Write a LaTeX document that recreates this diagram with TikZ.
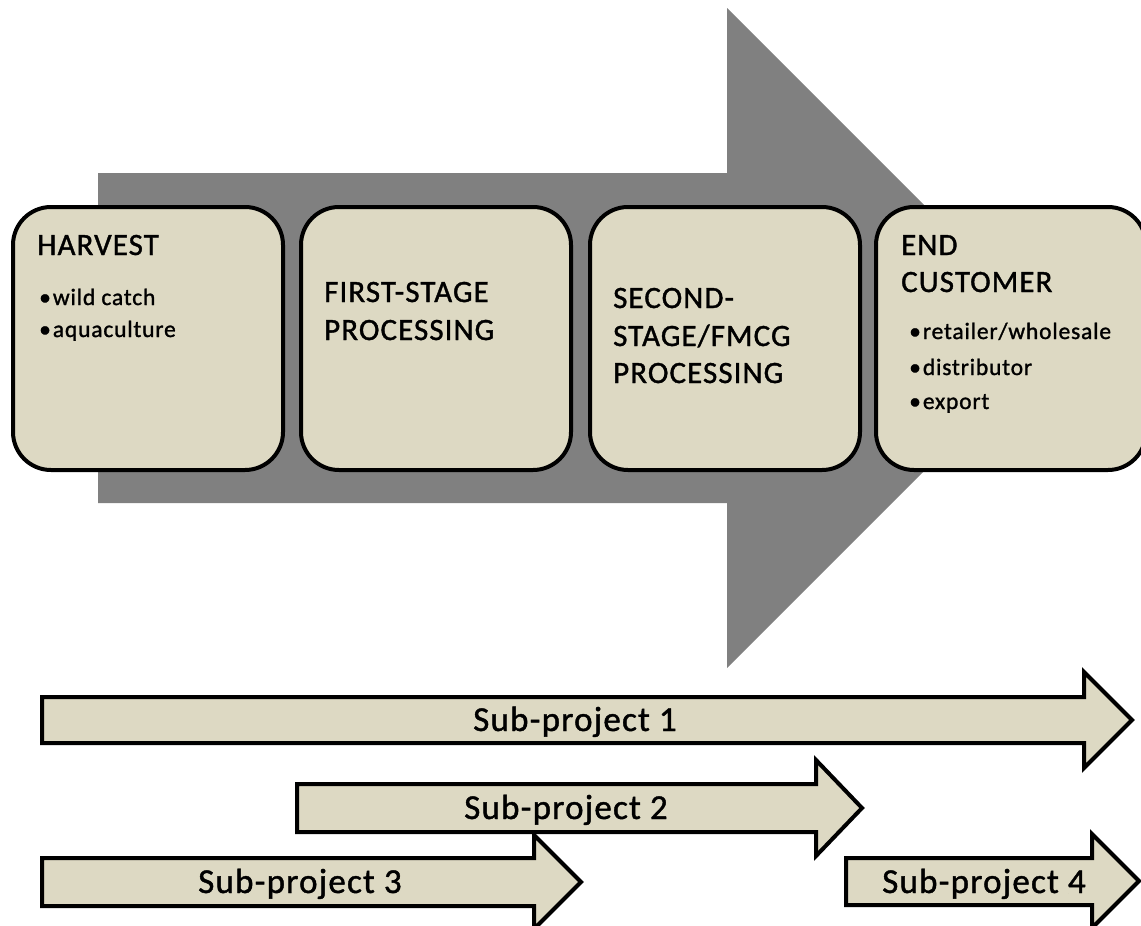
\documentclass[tikz,border=0pt]{standalone}
\usepackage{fontspec}
\setmainfont{Carlito}[LetterSpace=3.5,FakeBold=1.2]
\definecolor{beige}{HTML}{DDD9C3}
\definecolor{biggrey}{HTML}{808080}
\begin{document}
\begin{tikzpicture}[x=1pt,y=-1pt,
  stagebox/.style={draw=black,line width=4pt,fill=beige,rounded corners=38pt,minimum width=270pt,minimum height=263pt,inner sep=0pt},
  ttl/.style={anchor=base west,inner sep=0pt,text=black,font=\fontsize{31}{31}\selectfont},
  bul/.style={anchor=base west,inner sep=0pt,text=black,font=\fontsize{23.5}{24}\selectfont},
  subarrow/.style={draw=black,line width=4pt,fill=beige,line join=miter},
  sublbl/.style={anchor=base,inner sep=0pt,text=black,font=\fontsize{35}{35}\selectfont}]
\useasboundingbox (0,0) rectangle (1141,926);
% big grey arrow
\fill[biggrey] (98,173) -- (727,173) -- (727,8) -- (1057,338) -- (727,668) -- (727,503) -- (98,503) -- cycle;
% stage boxes
\node[stagebox] (b1) at (148,338.5) {};
\node[stagebox] (b2) at (436,338.5) {};
\node[stagebox] (b3) at (725,338.5) {};
\node[stagebox] (b4) at (1011,338.5) {};
% box texts
\node[ttl] (t1) at (37,255) {HARVEST};
\node[bul] (t1a) at (39,305) {•\kern2pt wild catch};
\node[bul] (t1b) at (39,337) {•\kern2pt aquaculture};
\node[ttl] (t2a) at (324,302) {FIRST-STAGE};
\node[ttl] (t2b) at (324,340) {PROCESSING};
\node[ttl] (t3a) at (613,308) {SECOND-};
\node[ttl] (t3b) at (613,346) {STAGE/FMCG};
\node[ttl] (t3c) at (613,383) {PROCESSING};
\node[ttl] (t4a) at (901,255) {END};
\node[ttl] (t4b) at (901,292) {CUSTOMER};
\node[bul] (t4c) at (909,339) {•\kern2pt retailer/wholesale};
\node[bul] (t4d) at (909,375) {•\kern2pt distributor};
\node[bul] (t4e) at (909,409) {•\kern2pt export};
% sub-project arrows
\draw[subarrow] (42,697) -- (1084,697) -- (1084,672) -- (1132,720) -- (1084,768) -- (1084,743) -- (42,743) -- cycle;
\node[sublbl] (s1) at (575,731) {Sub-project 1};
\draw[subarrow] (297,784) -- (816,784) -- (816,760) -- (862,808) -- (816,856) -- (816,832) -- (297,832) -- cycle;
\node[sublbl] (s2) at (566,819) {Sub-project 2};
\draw[subarrow] (42,858) -- (534,858) -- (534,835) -- (581,882) -- (534,929) -- (534,906) -- (42,906) -- cycle;
\node[sublbl] (s3) at (300,893) {Sub-project 3};
\draw[subarrow] (846,858) -- (1092,858) -- (1092,834) -- (1139,881) -- (1092,928) -- (1092,905) -- (846,905) -- cycle;
\node[sublbl] (s4) at (984,893) {Sub-project 4};
\end{tikzpicture}
\end{document}
